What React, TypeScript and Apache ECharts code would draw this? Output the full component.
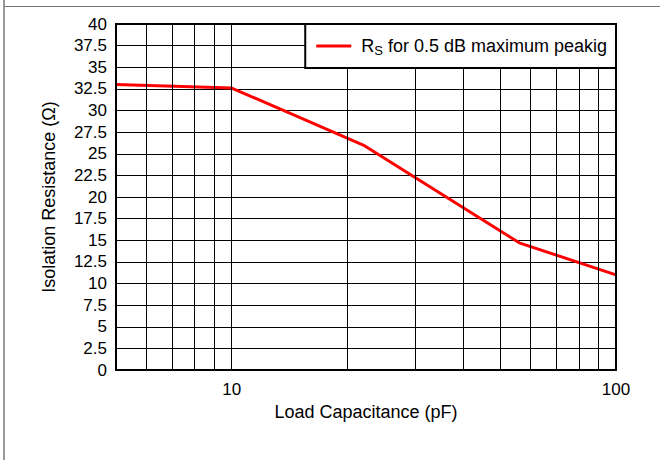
import React, { useEffect, useRef } from "react";
import * as echarts from "echarts";

// Data
const capacitance = [5, 10, 22, 56, 100]; // pF
const resistance = [33, 32.6, 26, 14.7, 11]; // Ω
const minorGrid = [6, 7, 8, 9, 20, 30, 40, 50, 60, 70, 80, 90];
const majorGrid = [10];
const xLabels = [10, 100];
const seriesName = "R{sub|S} for 0.5 dB maximum peakig";

const FONT = "'Liberation Sans', Arial, Helvetica, sans-serif";

export default function App() {
  const ref = useRef<HTMLDivElement>(null);
  useEffect(() => {
    if (!ref.current) return;
    const chart = echarts.init(ref.current, null, { renderer: "svg" });
    const points = capacitance.map((c, i) => [c, resistance[i]]);
    const gridLines = [...minorGrid, ...majorGrid].map((v) => ({ xAxis: v }));
    chart.setOption({
      animation: false,
      backgroundColor: "#fff",
      textStyle: { fontFamily: FONT },
      grid: {
        left: 116,
        top: 24,
        right: 44,
        bottom: 90,
        show: true,
        borderColor: "#000",
        borderWidth: 2,
        backgroundColor: "transparent",
        z: 5,
      },
      graphic: [
        {
          type: "line",
          shape: { x1: 4, y1: 6.5, x2: 660, y2: 6.5 },
          style: { stroke: "#777", lineWidth: 1 },
        },
        {
          type: "line",
          shape: { x1: 4, y1: 0, x2: 4, y2: 460 },
          style: { stroke: "#777", lineWidth: 1.5 },
        },
      ],
      legend: {
        right: 44,
        top: 24,
        orient: "horizontal",
        backgroundColor: "#fff",
        borderColor: "#000",
        borderWidth: 2,
        borderRadius: 0,
        padding: [11, 9, 11, 11],
        itemWidth: 35,
        itemHeight: 3,
        selectedMode: false,
        z: 10,
        data: [{ name: seriesName, icon: "rect", itemStyle: { color: "#ff0000" } }],
        formatter: () => seriesName,
        textStyle: {
          fontFamily: FONT,
          fontSize: 18,
          color: "#000",
          lineHeight: 22,
          padding: [0, 0, 0, 5],
          rich: {
            sub: {
              fontFamily: FONT,
              fontSize: 13,
              color: "#000",
              verticalAlign: "bottom",
              lineHeight: 22,
              padding: [3, 0, 0, 0],
            },
          },
        },
      },
      xAxis: {
        type: "log",
        logBase: 10,
        min: 5,
        max: 100,
        axisLine: { show: false },
        axisTick: { show: false },
        splitLine: { show: false },
        axisLabel: {
          fontSize: 17,
          color: "#000",
          margin: 11,
          showMinLabel: false,
          formatter: (v: number) =>
            xLabels.some((x) => Math.abs(x - v) < 1e-6) ? String(Math.round(v)) : "",
        },
        name: "Load Capacitance (pF)",
        nameLocation: "middle",
        nameGap: 32,
        nameTextStyle: { fontSize: 18, color: "#000", fontFamily: FONT },
      },
      yAxis: {
        type: "value",
        min: 0,
        max: 40,
        interval: 2.5,
        axisLine: { show: false },
        axisTick: { show: false },
        splitLine: { show: true, lineStyle: { color: "#000", width: 1 } },
        axisLabel: { fontSize: 17, color: "#000", margin: 9 },
        name: "Isolation Resistance (Ω)",
        nameLocation: "middle",
        nameGap: 58,
        nameTextStyle: { fontSize: 18, color: "#000", fontFamily: FONT },
      },
      series: [
        {
          name: seriesName,
          type: "line",
          data: points,
          symbol: "none",
          lineStyle: { color: "#ff0000", width: 3 },
          itemStyle: { color: "#ff0000" },
          z: 3,
          markLine: {
            silent: true,
            symbol: "none",
            label: { show: false },
            lineStyle: { color: "#000", width: 1, type: "solid" },
            data: gridLines,
          },
        },
      ],
    });
    return () => chart.dispose();
  }, []);
  return (
    <div
      ref={ref}
      style={{ position: "fixed", left: 0, top: 0, width: 660, height: 460 }}
    />
  );
}
